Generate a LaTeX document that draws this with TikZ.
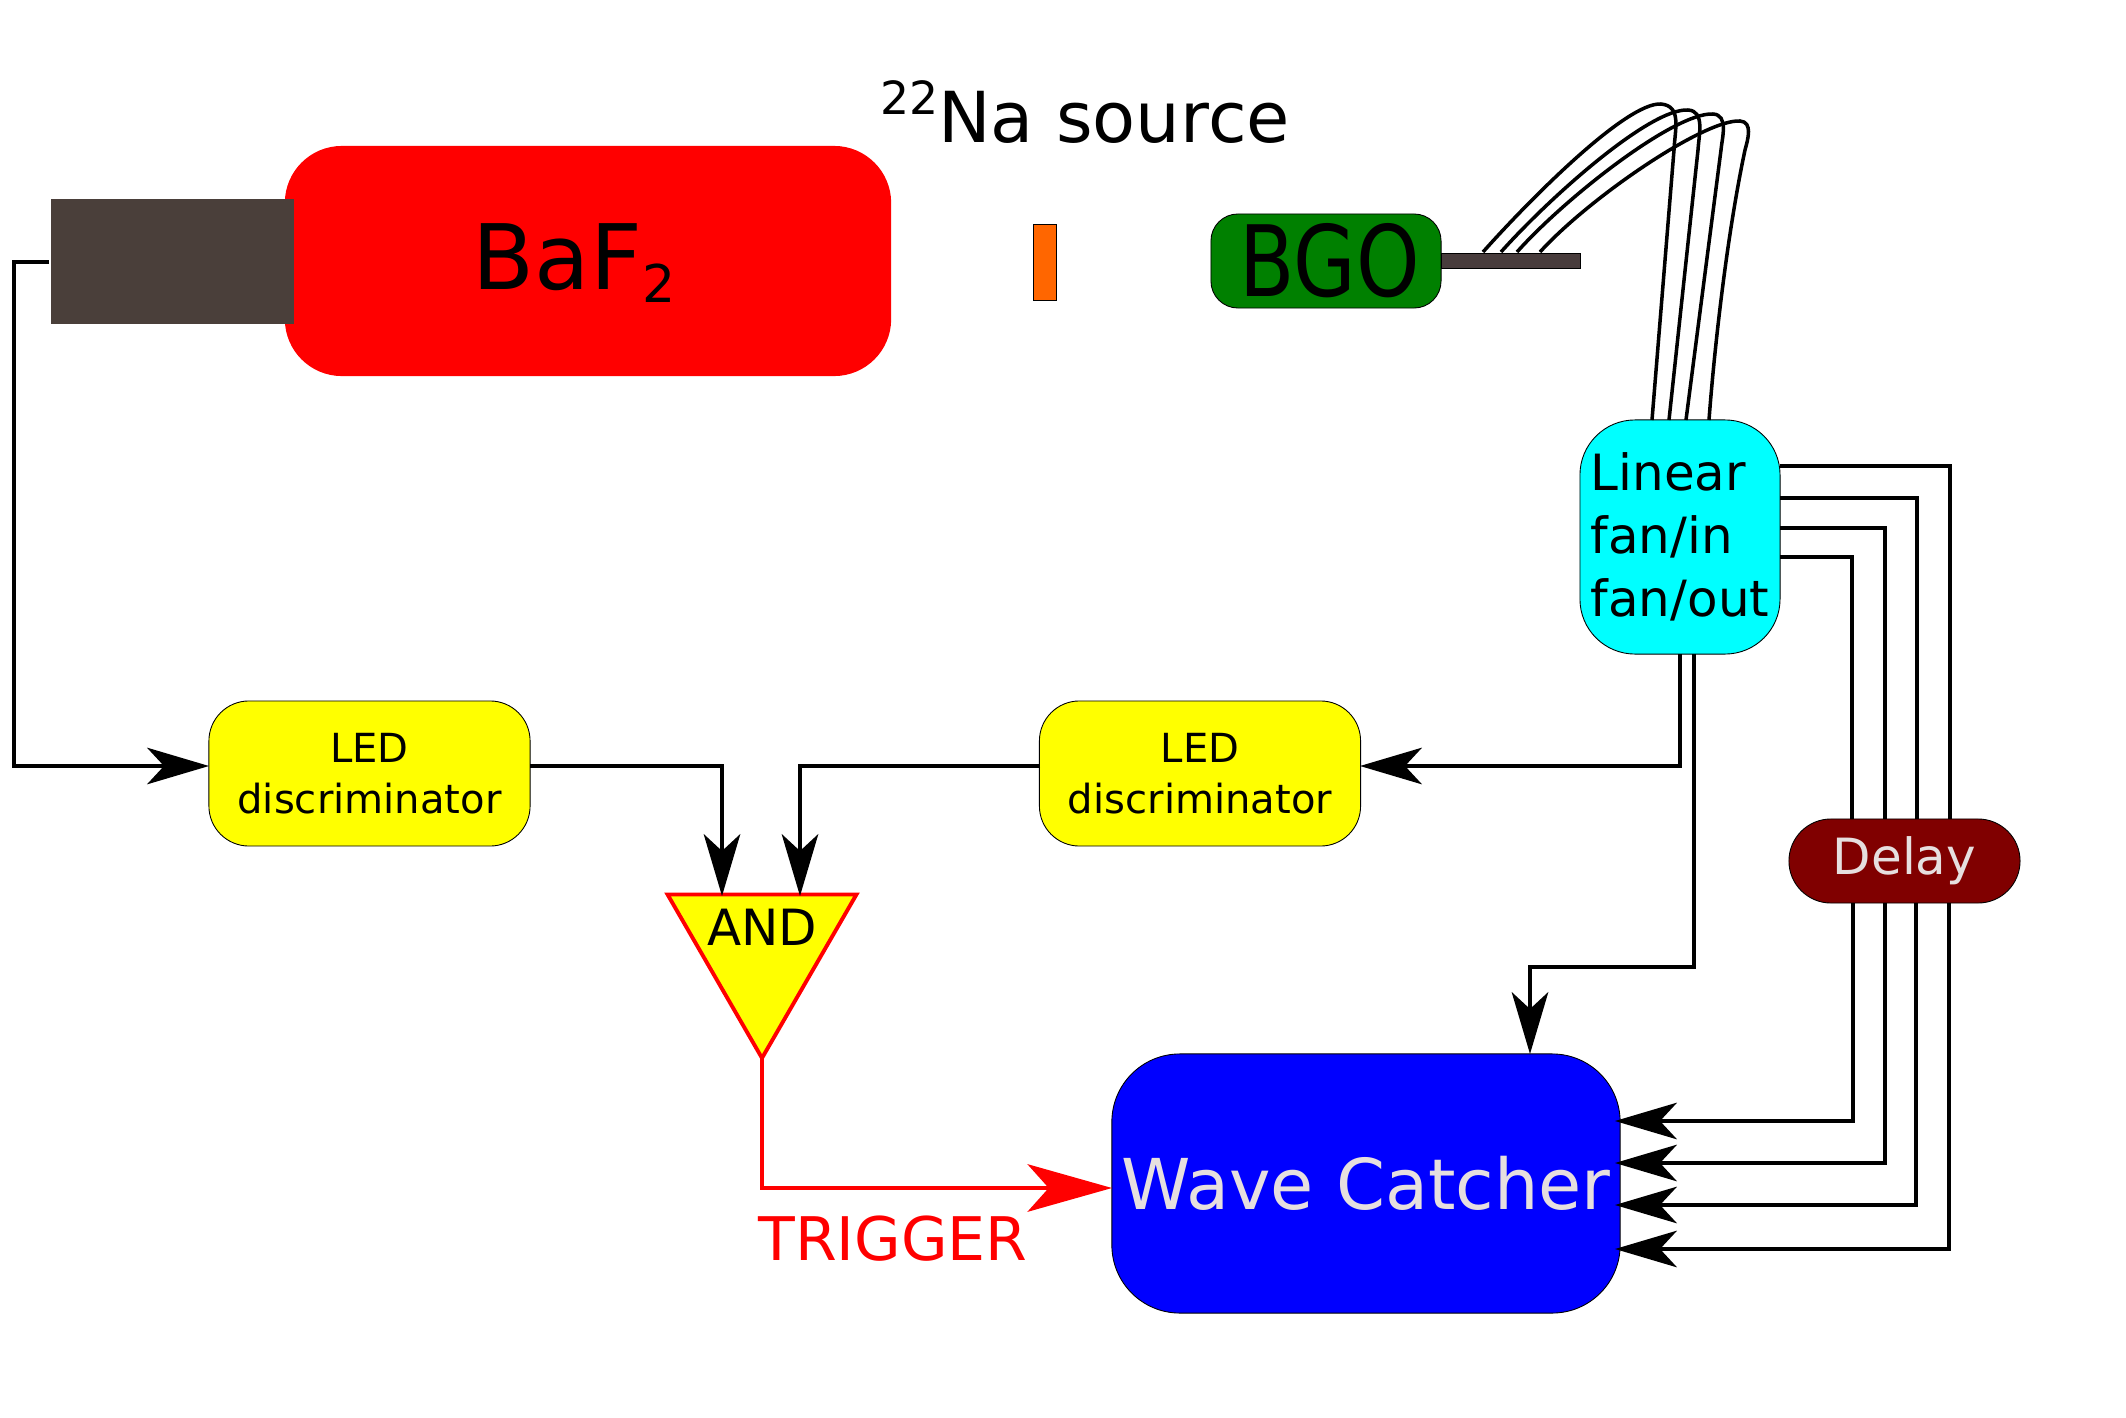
\documentclass[tikz,border=0pt]{standalone}
\usepackage{fontspec}
\setmainfont{DejaVu Sans}
\usetikzlibrary{arrows.meta,shapes.geometric}
\definecolor{pmtgrey}{HTML}{4A3F3A}
\definecolor{bargrey}{HTML}{483C3C}
\definecolor{palegrey}{HTML}{E6DFDF}
\definecolor{srcorange}{HTML}{FF6600}
\definecolor{bgogreen}{HTML}{008000}
\definecolor{delayred}{HTML}{800000}
\definecolor{ledyellow}{HTML}{FFFF00}
\definecolor{fancyan}{HTML}{00FFFF}
\newcommand{\fsz}[2]{\fontsize{#1}{#2}\selectfont}
\tikzset{
    wire/.style={line width=1pt},
    arr/.style={-{Stealth[length=17.6pt,width=10.4pt,inset=4.8pt]}},
    redarr/.style={-{Stealth[length=24pt,width=13.5pt,inset=6pt]}},
    block/.style={draw=black,line width=0.25pt,inner sep=0pt,outer sep=0pt},
    plain/.style={inner sep=0pt,outer sep=0pt},
    led/.style={block,fill=ledyellow,rounded corners=0.40cm,minimum width=3.21cm,minimum height=1.45cm,align=center,font=\fsz{11.4}{14.4}}
}
\begin{document}
\begin{tikzpicture}[x=0.01cm,y=-0.01cm]
    \useasboundingbox (0,0) rectangle (2126,1418);
    \node[plain,fill=red,rounded corners=0.57cm,minimum width=6.06cm,minimum height=2.30cm] (baf) at (588,261) {};
    \node[plain,font=\fsz{25.7}{30}] (baflabel) at (574,263) {BaF\raisebox{-0.15em}{\fsz{14.8}{15}2}};
    \node[plain,fill=pmtgrey,minimum width=2.43cm,minimum height=1.25cm] (pmt) at (172.5,261.5) {};
    \node[block,fill=srcorange,minimum width=0.23cm,minimum height=0.76cm] (src) at (1044.5,262) {};
    \node[plain,font=\fsz{20}{24}] (srclabel) at (1085,112) {\raisebox{0.39em}{\fsz{13}{13}22}Na source};
    \node[block,fill=bgogreen,rounded corners=0.27cm,minimum width=2.30cm,minimum height=0.94cm,font=\fsz{28}{30}] (bgo) at (1326,261) {\hspace{2pt}\scalebox{0.82}[1]{BGO}};
    \node[block,fill=bargrey,minimum width=1.39cm,minimum height=0.15cm] (bar) at (1510.5,261) {};
    \node[block,fill=fancyan,rounded corners=0.55cm,minimum width=2.00cm,minimum height=2.34cm,align=left,font=\fsz{14.2}{18}] (fan) at (1680,537) {Linear\\fan/in\\fan/out};
    \node[led] (ledL) at (369.5,773.5) {LED\\discriminator};
    \node[led] (ledR) at (1200,773.5) {LED\\discriminator};
    \node[block,fill=delayred,text=palegrey,rounded corners=0.42cm,minimum width=2.31cm,minimum height=0.84cm,font=\fsz{14.2}{16}] (delay) at (1904.5,861) {Delay};
    \node[block,fill=blue,text=palegrey,rounded corners=0.68cm,minimum width=5.08cm,minimum height=2.59cm,font=\fsz{19.95}{24}] (wave) at (1366,1183.5) {Wave Catcher};
    \node[regular polygon,regular polygon sides=3,shape border rotate=180,draw=red,fill=ledyellow,line width=1.1pt,inner sep=0pt,outer sep=0pt,minimum size=2.18cm] (gate) at (762,949) {};
    \node[plain,font=\fsz{14.2}{16}] (gatelabel) at (762,927) {AND};
    \node[plain,text=red,font=\fsz{17.1}{20}] (trig) at (893,1239) {TRIGGER};

    % fibres
    \coordinate (fibA) at (1483,252);
    \coordinate (fibB) at (1501,252);
    \coordinate (fibC) at (1517,252);
    \coordinate (fibD) at (1540,252);
    \coordinate (finA) at (1652,420);
    \coordinate (finB) at (1669,420);
    \coordinate (finC) at (1686,420);
    \coordinate (finD) at (1709,420);
    \draw[wire] (fibA) .. controls (1532,197) and (1627,102) .. (1661,104) .. controls (1682,106) and (1675,129) .. (1674,150) -- (finA);
    \draw[wire] (fibB) .. controls (1550,197) and (1650,108) .. (1688,110) .. controls (1705,111) and (1699,134) .. (1698,150) -- (finB);
    \draw[wire] (fibC) .. controls (1566,197) and (1675,112) .. (1713,114) .. controls (1729,115) and (1722,138) .. (1721,150) -- (finC);
    \draw[wire] (fibD) .. controls (1590,197) and (1705,119) .. (1740,121) .. controls (1753,122) and (1748,139) .. (1745,150) .. controls (1728,230) and (1715,340) .. (finD);

    % fan outputs to the delay and on to the digitizer
    \coordinate (outA) at (1780,466);
    \coordinate (outB) at (1780,498);
    \coordinate (outC) at (1780,528);
    \coordinate (outD) at (1780,557);
    \coordinate (dlyA) at (1950,819);
    \coordinate (dlyB) at (1917,819);
    \coordinate (dlyC) at (1885,819);
    \coordinate (dlyD) at (1852,819);
    \coordinate (dlaA) at (1949,903);
    \coordinate (dlaB) at (1916,903);
    \coordinate (dlaC) at (1885,903);
    \coordinate (dlaD) at (1853,903);
    \coordinate (inA) at (1615,1249);
    \coordinate (inB) at (1615,1205);
    \coordinate (inC) at (1615,1163);
    \coordinate (inD) at (1615,1121);
    \draw[wire] (outA) -| (dlyA);
    \draw[wire] (outB) -| (dlyB);
    \draw[wire] (outC) -| (dlyC);
    \draw[wire] (outD) -| (dlyD);
    \draw[wire,arr] (dlaA) |- (inA);
    \draw[wire,arr] (dlaB) |- (inB);
    \draw[wire,arr] (dlaC) |- (inC);
    \draw[wire,arr] (dlaD) |- (inD);

    % trigger logic
    \coordinate (pmtout) at (49,262);
    \coordinate (cornerL) at (14,262);
    \coordinate (ledLin) at (209,766);
    \coordinate (ledLout) at (530,766);
    \coordinate (ledRout) at (1040,766);
    \coordinate (ledRin) at (1360,766);
    \coordinate (gateA) at (722,896);
    \coordinate (gateB) at (800,896);
    \coordinate (fanA) at (1680,654);
    \coordinate (fanB) at (1694,654);
    \coordinate (waveturn) at (1530,967);
    \coordinate (waveup) at (1530,1054);
    \coordinate (trigin) at (1112,1188);
    \draw[wire,arr] (pmtout) -- (cornerL) |- (ledLin);
    \draw[wire,arr] (ledLout) -| (gateA);
    \draw[wire,arr] (ledRout) -| (gateB);
    \draw[wire,arr] (fanA) |- (ledRin);
    \draw[wire,arr] (fanB) |- (waveturn) -- (waveup);
    \draw[line width=1.35pt,draw=red,redarr] (gate.corner 1) |- (trigin);
\end{tikzpicture}
\end{document}
